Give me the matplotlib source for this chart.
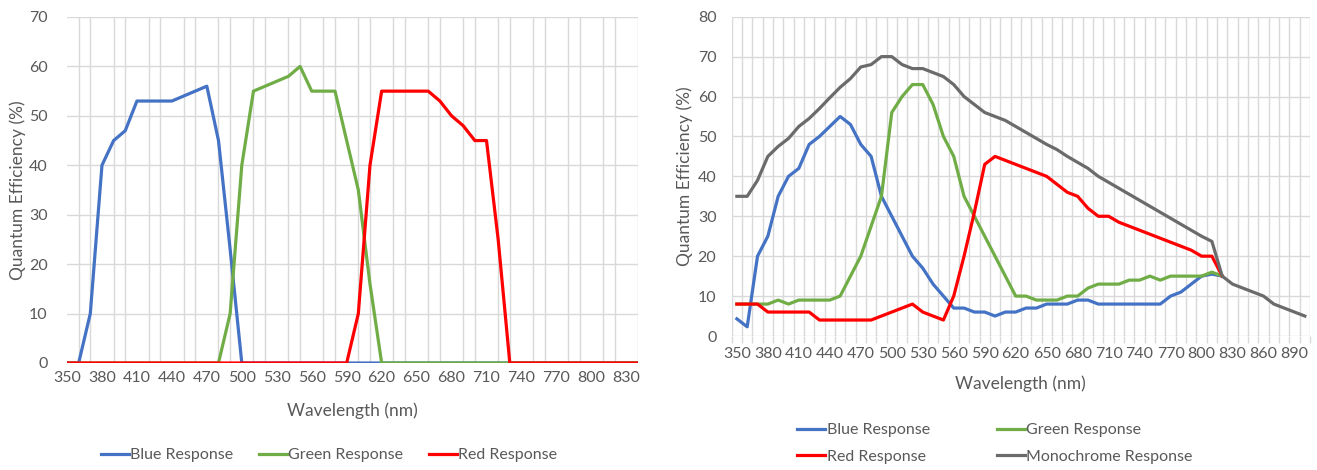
import numpy as np
import matplotlib
matplotlib.use('Agg')
import matplotlib.pyplot as plt

plt.rcParams['font.family'] = ['Lato', 'DejaVu Sans']

# データ (左: カラーセンサ) -------------------------------------------------
wl_left = list(range(350, 850, 10))
blue_left = [0, 0, 10, 40, 45, 47, 53, 53, 53, 53,
             54, 55, 56, 45, 23, 0] + [0] * 34
green_left = [0] * 13 + [0, 10, 40, 55, 56, 57, 58, 60, 55, 55, 55, 45, 35, 16, 0] + [0] * 22
red_left = [0] * 25 + [10, 40, 55, 55, 55, 55, 55, 53, 50, 48, 45, 45, 25, 0] + [0] * 11

# データ (右: カラー + モノクロ) --------------------------------------------
wl_right = list(range(350, 910, 10))
wl_rgb = list(range(350, 830, 10))
blue_right = [4.3, 2.3, 20, 25, 35, 40, 42, 48, 50, 52.5,
              55, 53, 48, 45, 35, 30, 25, 20, 17, 13,
              10, 7, 7, 6, 6, 5, 6, 6, 7, 7,
              8, 8, 8, 9, 9, 8, 8, 8, 8, 8,
              8, 8, 10, 11, 13, 15, 15.5, 15]
green_right = [8, 8, 8, 8, 9, 8, 9, 9, 9, 9,
               10, 15, 20, 27.5, 35, 56, 60, 63, 63, 58,
               50, 45, 35, 30, 25, 20, 15, 10, 10, 9,
               9, 9, 10, 10, 12, 13, 13, 13, 14, 14,
               15, 14, 15, 15, 15, 15, 16, 15]
red_right = [8, 8, 8, 6, 6, 6, 6, 6, 4, 4,
             4, 4, 4, 4, 5, 6, 7, 8, 6, 5,
             4, 10, 20, 31, 43, 45, 44, 43, 42, 41,
             40, 38, 36, 35, 32, 30, 30, 28.5, 27.5, 26.5,
             25.5, 24.5, 23.5, 22.5, 21.5, 20, 20, 15]
mono_right = [35, 35, 39, 45, 47.5, 49.5, 52.5, 54.5, 57, 59.7,
              62.3, 64.5, 67.4, 68, 70, 70, 68, 67, 67, 66,
              65, 63, 60, 58, 56, 55, 54, 52.5, 51, 49.5,
              48, 46.7, 45, 43.5, 42, 40, 38.5, 37, 35.5, 34,
              32.5, 31, 29.5, 28, 26.5, 25, 23.7, 15, 13, 12,
              11, 10, 8, 7, 6, 5]

c_blue = '#4472C4'
c_green = '#70AD47'
c_red = '#FF0000'
c_gray = '#6B6B6B'
c_text = '#595959'
c_grid = '#D9D9D9'
lw = 2.3
fs = 11.5

fig = plt.figure(figsize=(13.17, 4.70), dpi=100)

# 左グラフ ------------------------------------------------------------------
ax1 = fig.add_axes([67 / 1317, 1 - 363 / 470, 571 / 1317, 346 / 470])
l1, = ax1.plot(wl_left, blue_left, color=c_blue, lw=lw, solid_joinstyle='round')
l2, = ax1.plot(wl_left, green_left, color=c_green, lw=lw, solid_joinstyle='round')
l3, = ax1.plot(wl_left, red_left, color=c_red, lw=lw, solid_joinstyle='round')
ax1.set_xlim(350, 840)
ax1.set_ylim(0, 70)
ax1.set_xticks(range(350, 831, 30))
ax1.set_xticks(range(350, 841, 10), minor=True)
ax1.set_yticks(range(0, 71, 10))
ax1.grid(True, which='minor', axis='x', color=c_grid, lw=1)
ax1.grid(True, which='major', axis='y', color=c_grid, lw=1)
ax1.tick_params(which='both', length=0, labelsize=fs, labelcolor=c_text)
ax1.tick_params(axis='x', pad=6)
ax1.tick_params(axis='y', pad=14)
for s in ax1.spines.values():
    s.set_visible(False)
ax1.set_axisbelow(True)
fig.text(352 / 1317, 1 - 411 / 470, 'Wavelength (nm)', ha='center', va='center',
         fontsize=fs + 1, color=c_text)
fig.text(18 / 1317, 1 - 190 / 470, 'Quantum Efficiency (%)', ha='center', va='center',
         rotation=90, fontsize=fs + 1, color=c_text)
ax1.legend([l1, l2, l3], ['Blue Response', 'Green Response', 'Red Response'],
           loc='center', bbox_to_anchor=(329 / 1317, 1 - 455 / 470),
           bbox_transform=fig.transFigure, ncol=3, frameon=False,
           fontsize=fs, labelcolor=c_text, handlelength=1.75, handletextpad=0.1,
           columnspacing=1.6)

# 右グラフ ------------------------------------------------------------------
ax2 = fig.add_axes([731.7 / 1317, 1 - 336 / 470, 578.3 / 1317, 319.3 / 470])
r1, = ax2.plot(wl_rgb, blue_right, color=c_blue, lw=lw, solid_joinstyle='round')
r2, = ax2.plot(wl_rgb, green_right, color=c_green, lw=lw, solid_joinstyle='round')
r3, = ax2.plot(wl_rgb, red_right, color=c_red, lw=lw, solid_joinstyle='round')
r4, = ax2.plot(wl_right, mono_right, color=c_gray, lw=lw, solid_joinstyle='round')
ax2.set_xlim(345, 905)
ax2.set_ylim(0, 80)
ax2.set_xticks(range(350, 891, 30))
ax2.set_xticks(range(345, 906, 10), minor=True)
ax2.set_yticks(range(0, 81, 10))
ax2.grid(True, which='minor', axis='x', color=c_grid, lw=1)
ax2.grid(True, which='major', axis='y', color=c_grid, lw=1)
ax2.tick_params(which='major', length=0, labelsize=fs, labelcolor=c_text)
ax2.tick_params(which='minor', axis='x', length=5, color=c_grid, width=1)
ax2.tick_params(axis='x', pad=8)
ax2.tick_params(axis='y', pad=11)
for s in ax2.spines.values():
    s.set_visible(False)
ax2.set_axisbelow(True)
fig.text(1020 / 1317, 1 - 384 / 470, 'Wavelength (nm)', ha='center', va='center',
         fontsize=fs + 1, color=c_text)
fig.text(685 / 1317, 1 - 176 / 470, 'Quantum Efficiency (%)', ha='center', va='center',
         rotation=90, fontsize=fs + 1, color=c_text)
ax2.legend([r1, r3, r2, r4],
           ['Blue Response', 'Red Response', 'Green Response', 'Monochrome Response'],
           loc='center', bbox_to_anchor=(995 / 1317, 1 - 443.5 / 470),
           bbox_transform=fig.transFigure, ncol=2, frameon=False,
           fontsize=fs, labelcolor=c_text, handlelength=1.75, handletextpad=0.1,
           columnspacing=4.2, labelspacing=0.8)

fig.savefig('out.png', dpi=100)
